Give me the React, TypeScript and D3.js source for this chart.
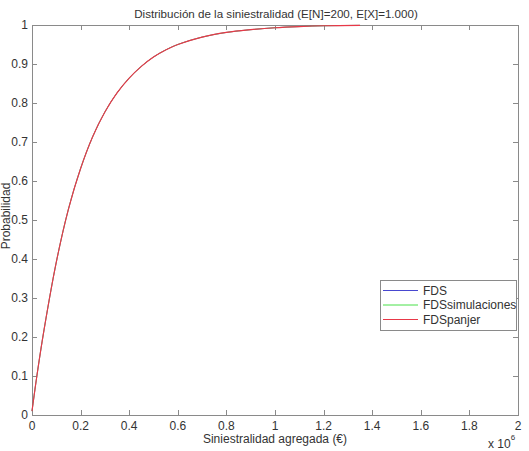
import { useRef, useEffect } from 'react';
import * as d3 from 'd3';

// Aggregate loss values (x 10^6)
const lossX = [0, 0.02, 0.05, 0.1, 0.15, 0.2, 0.25, 0.3, 0.35, 0.4, 0.45, 0.5, 0.55, 0.6, 0.7, 0.8, 0.9, 1.0, 1.1, 1.2, 1.35];
// CDF values (all three curves overlap in the picture)
const fdsValues = [0.01, 0.1, 0.22, 0.392, 0.528, 0.632, 0.714, 0.777, 0.826, 0.864, 0.894, 0.918, 0.936, 0.95, 0.969, 0.981, 0.988, 0.993, 0.996, 0.998, 0.999];
const fdsSimValues = [0.01, 0.1, 0.22, 0.392, 0.528, 0.632, 0.714, 0.777, 0.826, 0.864, 0.894, 0.918, 0.936, 0.95, 0.969, 0.981, 0.988, 0.993, 0.996, 0.998, 0.999];
const fdsPanjerValues = [0.01, 0.1, 0.22, 0.392, 0.528, 0.632, 0.714, 0.777, 0.826, 0.864, 0.894, 0.918, 0.936, 0.95, 0.969, 0.981, 0.988, 0.993, 0.996, 0.998, 0.999];

const seriesNames = ['FDS', 'FDSsimulaciones', 'FDSpanjer'];
const seriesColors = ['#4848d0', '#48e048', '#e83848'];

const xTicks = [0, 0.2, 0.4, 0.6, 0.8, 1, 1.2, 1.4, 1.6, 1.8, 2];
const yTicks = [0, 0.1, 0.2, 0.3, 0.4, 0.5, 0.6, 0.7, 0.8, 0.9, 1];

const W = 529;
const H = 451;
const margin = { top: 25, right: 11, bottom: 36, left: 32 };
const FONT = '"Liberation Sans", Arial, sans-serif';

export default function App() {
  const svgRef = useRef<SVGSVGElement>(null);

  useEffect(() => {
    if (!svgRef.current) return;
    const svg = d3.select(svgRef.current);
    svg.selectAll('*').remove();

    const x0 = margin.left;
    const x1 = W - margin.right;
    const y0 = H - margin.bottom;
    const y1 = margin.top;

    const x = d3.scaleLinear().domain([0, 2]).range([x0, x1]);
    const y = d3.scaleLinear().domain([0, 1]).range([y0, y1]);

    svg.append('rect').attr('width', W).attr('height', H).attr('fill', '#fff');

    const axisColor = '#8a8a8a';
    const textColor = '#333';
    const tickLen = 5;

    // ticks (inward, on all four sides)
    const ticks = svg.append('g').attr('stroke', axisColor).attr('stroke-width', 1);
    xTicks.forEach((t) => {
      const px = Math.round(x(t)) + 0.5;
      ticks.append('line').attr('x1', px).attr('x2', px).attr('y1', y0).attr('y2', y0 - tickLen);
      ticks.append('line').attr('x1', px).attr('x2', px).attr('y1', y1).attr('y2', y1 + tickLen);
    });
    yTicks.forEach((t) => {
      const py = Math.round(y(t)) + 0.5;
      ticks.append('line').attr('x1', x0).attr('x2', x0 + tickLen).attr('y1', py).attr('y2', py);
      ticks.append('line').attr('x1', x1).attr('x2', x1 - tickLen).attr('y1', py).attr('y2', py);
    });

    // box
    svg.append('rect')
      .attr('x', x0 + 0.5)
      .attr('y', y1 + 0.5)
      .attr('width', x1 - x0)
      .attr('height', y0 - y1)
      .attr('fill', 'none')
      .attr('stroke', axisColor);

    // tick labels
    const labels = svg.append('g').attr('font-family', FONT).attr('font-size', 12).attr('fill', textColor);
    xTicks.forEach((t) => {
      labels.append('text')
        .attr('x', x(t))
        .attr('y', y0 + 15)
        .attr('text-anchor', 'middle')
        .text(String(t));
    });
    yTicks.forEach((t) => {
      labels.append('text')
        .attr('x', x0 - 4)
        .attr('y', y(t) + 4)
        .attr('text-anchor', 'end')
        .text(String(t));
    });

    // curves: red (Panjer) drawn last, covering the others
    const valueSets = [fdsValues, fdsSimValues, fdsPanjerValues];
    const line = d3
      .line<number>()
      .x((_, i) => x(lossX[i]))
      .y((d) => y(d))
      .curve(d3.curveCatmullRom.alpha(0.5));
    valueSets.forEach((vals, i) => {
      svg.append('path')
        .attr('d', line(vals))
        .attr('fill', 'none')
        .attr('stroke', seriesColors[i])
        .attr('stroke-width', i === 2 ? 1.15 : 0.7);
    });

    // title and axis labels
    svg.append('text')
      .attr('x', 276)
      .attr('y', 18)
      .attr('text-anchor', 'middle')
      .attr('font-family', FONT)
      .attr('font-size', 11.6)
      .attr('fill', textColor)
      .text('Distribución de la siniestralidad (E[N]=200, E[X]=1.000)');

    svg.append('text')
      .attr('x', 275)
      .attr('y', 443)
      .attr('text-anchor', 'middle')
      .attr('font-family', FONT)
      .attr('font-size', 12)
      .attr('fill', textColor)
      .text('Siniestralidad agregada (€)');

    svg.append('text')
      .attr('transform', 'translate(10,216) rotate(-90)')
      .attr('text-anchor', 'middle')
      .attr('font-family', FONT)
      .attr('font-size', 12)
      .attr('fill', textColor)
      .text('Probabilidad');

    const mult = svg.append('text')
      .attr('x', 488)
      .attr('y', 448)
      .attr('font-family', FONT)
      .attr('font-size', 12)
      .attr('fill', textColor);
    mult.append('tspan').text('x 10');
    mult.append('tspan').attr('dy', -8).attr('font-size', 8).text('6');

    // legend
    const lg = svg.append('g').attr('transform', 'translate(380,280)');
    lg.append('rect')
      .attr('x', 0.5)
      .attr('y', 0.5)
      .attr('width', 136)
      .attr('height', 50)
      .attr('fill', '#fff')
      .attr('stroke', axisColor);
    seriesNames.forEach((name, i) => {
      const ly = 10.5 + i * 14.5;
      lg.append('line')
        .attr('x1', 3)
        .attr('x2', 38)
        .attr('y1', ly)
        .attr('y2', ly)
        .attr('stroke', seriesColors[i])
        .attr('stroke-width', 1);
      lg.append('text')
        .attr('x', 43)
        .attr('y', ly + 4)
        .attr('font-family', FONT)
        .attr('font-size', 12)
        .attr('fill', textColor)
        .text(name);
    });
  }, []);

  return (
    <div style={{ position: 'absolute', left: 0, top: 0 }}>
      <svg ref={svgRef} width={W} height={H} style={{ display: 'block' }} />
    </div>
  );
}
